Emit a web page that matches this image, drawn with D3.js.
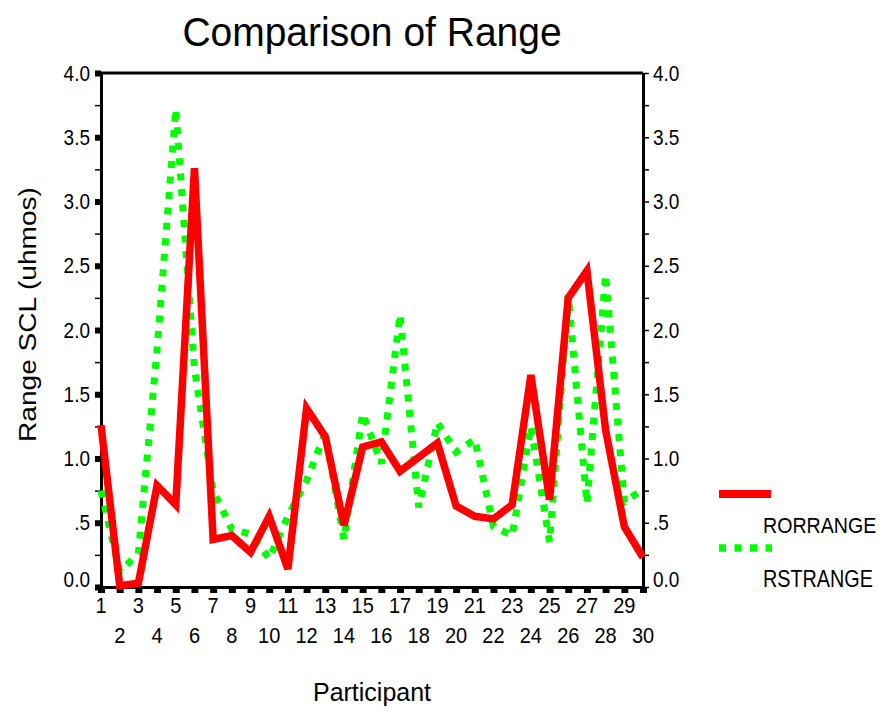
<!DOCTYPE html>
<html><head><meta charset="utf-8">
<script src="https://cdn.jsdelivr.net/npm/d3@7"></script>
<style>
body{margin:0;background:#fff}
text{font-family:"Liberation Sans",Arial,Helvetica,sans-serif;fill:#000}
</style>
</head><body>
<svg id="chart" width="885" height="713"></svg>
<script>
const participants = [1,2,3,4,5,6,7,8,9,10,11,12,13,14,15,16,17,18,19,20,21,22,23,24,25,26,27,28,29,30];
const rorrange = [1.26,0.01,0.03,0.79,0.64,3.26,0.37,0.40,0.27,0.55,0.14,1.39,1.17,0.48,1.09,1.13,0.90,1.01,1.12,0.63,0.55,0.53,0.64,1.65,0.68,2.25,2.46,1.22,0.47,0.23];
const rstrange = [0.75,0.12,0.26,1.85,3.72,1.70,0.75,0.45,0.41,0.22,0.55,0.83,1.20,0.37,1.35,0.96,2.12,0.62,1.28,1.05,1.15,0.47,0.40,1.25,0.35,2.27,0.65,2.43,0.66,0.76];
const yMajor = [0,0.5,1,1.5,2,2.5,3,3.5,4];
const yMajorLabels = ["0.0",".5","1.0","1.5","2.0","2.5","3.0","3.5","4.0"];
const yMinor = [0.25,0.75,1.25,1.75,2.25,2.75,3.25,3.75];
const seriesNames = ["RORRANGE","RSTRANGE"];

const svg = d3.select("#chart");
const x = d3.scaleLinear().domain([1,30]).range([101,643]);
const y = d3.scaleLinear().domain([0,4]).range([587,73]);

function stext(tx, ty, sy, size, anchor, str){
  return svg.append("text").attr("transform",`translate(${tx},${ty}) scale(1,${sy})`)
    .attr("text-anchor",anchor).attr("font-size",size).text(str);
}

// top frame line
svg.append("line").attr("x1",x(1)).attr("x2",x(30)).attr("y1",y(4)).attr("y2",y(4))
  .attr("stroke","#000").attr("stroke-width",3);

// left axis: major square ticks
const gL = svg.append("g").attr("transform",`translate(${x(1)},0)`)
  .call(d3.axisLeft(y).tickValues(yMajor).tickSize(6).tickSizeOuter(0).tickFormat(""));
gL.select(".domain").attr("stroke-width",3);
gL.selectAll(".tick line").attr("stroke-width",6);
const gLm = svg.append("g").attr("transform",`translate(${x(1)},0)`)
  .call(d3.axisLeft(y).tickValues(yMinor).tickSize(6).tickSizeOuter(0).tickFormat(""));
gLm.select(".domain").remove();
gLm.selectAll(".tick line").attr("stroke-width",1.5);

// right axis
const gR = svg.append("g").attr("transform",`translate(${x(30)},0)`)
  .call(d3.axisRight(y).tickValues(yMajor.concat(yMinor)).tickSize(6).tickSizeOuter(0).tickFormat(""));
gR.select(".domain").attr("stroke-width",3);
gR.selectAll(".tick line").attr("stroke-width",1.5);

// bottom axis
const gB = svg.append("g").attr("transform",`translate(0,${y(0)})`)
  .call(d3.axisBottom(x).tickValues(participants).tickSize(6).tickSizeOuter(0).tickFormat(""));
gB.select(".domain").attr("stroke-width",3);
gB.selectAll(".tick line").attr("stroke-width",7);

// y labels
yMajor.forEach((v,i)=>{
  const by = v===0 ? y(0) : y(v)+7.5;
  stext(x(1)-11, by, 1.12, 19, "end", yMajorLabels[i]);
  stext(x(30)+10, by, 1.12, 19, "start", yMajorLabels[i]);
});
// x labels (alternating rows)
participants.forEach((p,i)=>{
  stext(x(p), i%2===0 ? 613 : 643, 1.08, 20, "middle", String(p));
});

// lines
const line = d3.line().x((d,i)=>x(participants[i])).y(d=>y(d));
svg.append("path").datum(rstrange).attr("d",line).attr("fill","none")
  .attr("stroke","#00ff00").attr("stroke-width",7).attr("stroke-dasharray","7,8.5");
svg.append("path").datum(rorrange).attr("d",line).attr("fill","none")
  .attr("stroke","#ff0000").attr("stroke-width",7.5).attr("stroke-linejoin","miter");

// titles
stext(372, 46, 1.06, 39, "middle", "Comparison of Range");
svg.append("text").attr("transform","translate(36,314.5) rotate(-90) scale(1.17,1)").attr("text-anchor","middle")
  .attr("font-size",24).text("Range SCL (uhmos)");
stext(372, 701, 1.05, 25, "middle", "Participant");

// legend
svg.append("line").attr("x1",719).attr("x2",771).attr("y1",494).attr("y2",494)
  .attr("stroke","#ff0000").attr("stroke-width",8);
svg.append("line").attr("x1",719).attr("x2",772).attr("y1",548).attr("y2",548)
  .attr("stroke","#00ff00").attr("stroke-width",7.5).attr("stroke-dasharray","7,8.5");
stext(763, 533, 1.17, 19.6, "start", seriesNames[0]);
stext(763, 587, 1.17, 19.8, "start", seriesNames[1]);
</script>
</body></html>
